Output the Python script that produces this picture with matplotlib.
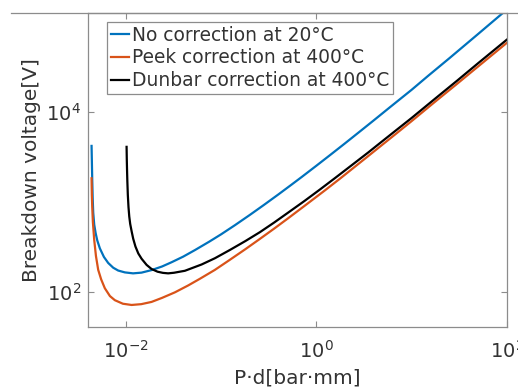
import matplotlib
matplotlib.use('Agg')
import matplotlib.pyplot as plt
from matplotlib.lines import Line2D
from matplotlib.ticker import NullLocator

# ---- data ----
x_blue = [0.00436, 0.0044, 0.00443, 0.00448, 0.00454, 0.00465, 0.00481, 0.005, 0.00533, 0.00588,
          0.00652, 0.00736, 0.0083, 0.00976, 0.0119, 0.0146, 0.0186, 0.024, 0.0302, 0.04,
          0.0531, 0.075, 0.1, 0.14, 0.2, 0.28, 0.4, 0.55, 0.7, 1.0,
          1.4, 2.0, 2.8, 4.0, 6.0, 10, 15, 25, 50, 100]
y_blue = [4200, 2600, 1800, 1100, 760, 560, 452, 375, 305, 245,
          210, 186, 173, 165, 161, 164, 175, 192, 214, 247,
          292, 362, 437, 553, 717, 923, 1214, 1560, 1890, 2525,
          3330, 4480, 5950, 8050, 11400, 17600, 25300, 39600, 73500, 137000]

x_orange = [0.00436, 0.00439, 0.00443, 0.0045, 0.00465, 0.00485, 0.00512, 0.0055, 0.00601, 0.0068,
            0.00766, 0.0093, 0.01148, 0.0145, 0.0186, 0.024, 0.0327, 0.045, 0.0598, 0.0861,
            0.1238, 0.18, 0.2557, 0.36, 0.5, 0.75, 1.231, 1.8, 2.5, 3.5,
            4.66, 7, 10, 17.6, 30, 50, 100]
y_orange = [1834, 1200, 887, 600, 378, 250, 176, 138, 110, 90,
            81, 74, 71.7, 73.2, 77.5, 86, 99, 118, 140, 176,
            228, 299, 389, 505, 653, 903, 1345, 1840, 2430, 3230,
            4120, 5820, 7900, 12950, 20500, 32000, 58500]

x_black = [0.01017, 0.01022, 0.01028, 0.01036, 0.01048, 0.01065, 0.01085, 0.0111, 0.0115, 0.01194,
           0.0126, 0.0135, 0.01462, 0.0165, 0.0186, 0.0215, 0.0245, 0.0278, 0.032, 0.0417,
           0.0624, 0.0861, 0.1238, 0.18, 0.2557, 0.36, 0.5, 0.75, 1.091, 1.6,
           2.5, 3.5, 4.66, 7, 10, 17.6, 30, 50, 100]
y_black = [4100, 3000, 2300, 1700, 1200, 880, 690, 570, 470, 390,
           320, 268, 234, 200, 180, 168, 163, 161, 163.5, 172,
           202, 237, 293, 368, 462, 590, 755, 1025, 1375, 1870,
           2690, 3540, 4510, 6350, 8560, 14000, 22200, 34800, 63500]

labels = ['No correction at 20°C', 'Peek correction at 400°C', 'Dunbar correction at 400°C']
x_ticks = [1e-2, 1e0, 1e2]
y_ticks = [1e2, 1e4]

# ---- style ----
plt.rcParams.update({
    'font.family': ['DejaVu Sans'],
    'mathtext.fontset': 'dejavusans',
    'axes.unicode_minus': False,
})
TXT = '#333333'
AX = '#8c8c8c'
W, H = 518, 388

fig = plt.figure(figsize=(W / 100, H / 100), dpi=100)
ax = fig.add_axes([88 / W, 1 - 327 / H, (506.7 - 88) / W, (327 - 13.3) / H])

ax.plot(x_blue, y_blue, color='#0072BD', lw=1.6, label=labels[0])
ax.plot(x_orange, y_orange, color='#D95319', lw=1.6, label=labels[1])
ax.plot(x_black, y_black, color='#000000', lw=1.6, label=labels[2])

ax.set_xscale('log')
ax.set_yscale('log')
ax.set_xlim(0.004, 100)
ax.set_ylim(40.8, 1.25e5)
ax.set_xticks(x_ticks)
ax.set_yticks(y_ticks)
ax.xaxis.set_minor_locator(NullLocator())
ax.yaxis.set_minor_locator(NullLocator())
ax.tick_params(direction='in', length=4, width=0.8, color=AX, labelcolor=TXT,
               labelsize=14, top=True, right=True)
ax.tick_params(axis='x', pad=9)
ax.tick_params(axis='y', pad=5)
for s in ax.spines.values():
    s.set_color(AX)
    s.set_linewidth(0.9)

ax.set_xlabel('P·d[bar·mm]', fontsize=14.5, color=TXT, labelpad=5)
ax.set_ylabel('Breakdown voltage[V]', fontsize=14.5, color=TXT, labelpad=4)

leg = ax.legend(loc='upper left', bbox_to_anchor=((107 - 88) / 418.7, 1 - (22 - 13.3) / 313.7),
                borderaxespad=0, fontsize=13.4, handlelength=1.0, handletextpad=0.12,
                borderpad=0.2, labelspacing=0.2, fancybox=False, framealpha=1,
                edgecolor=AX)
leg.get_frame().set_linewidth(0.9)
for t in leg.get_texts():
    t.set_color(TXT)

fig.add_artist(Line2D([11 / W, 1], [1 - 13.3 / H, 1 - 13.3 / H], transform=fig.transFigure,
                      color=AX, lw=0.9))

fig.savefig('out.png', dpi=100)
